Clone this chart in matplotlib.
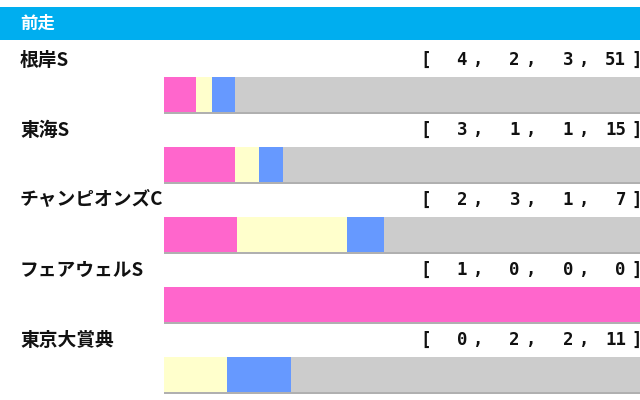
import matplotlib
matplotlib.use("Agg")
from matplotlib import pyplot as plt
from matplotlib.patches import Rectangle

plt.rcParams['font.family'] = ['Noto Sans CJK JP', 'DejaVu Sans']

# ---------------------------------------------------------------------------
#   dati: gare precedenti e risultati [1着, 2着, 3着, 着外]
# ---------------------------------------------------------------------------
title = "前走"
races = ["根岸S", "東海S", "チャンピオンズC", "フェアウェルS", "東京大賞典"]
first = [4, 3, 2, 1, 0]
second = [2, 1, 3, 0, 2]
third = [3, 1, 1, 0, 2]
other = [51, 15, 7, 0, 11]

colors = ["#ff66cc", "#ffffcc", "#6699ff", "#cccccc"]

W, H = 640, 400
fig = plt.figure(figsize=(6.4, 4.0), dpi=100)

# asse di sfondo in coordinate pixel
bg = fig.add_axes([0, 0, 1, 1])
bg.set_xlim(0, W)
bg.set_ylim(H, 0)
bg.axis("off")

# header
bg.add_patch(Rectangle((0, 7), W, 33, color="#00aeef", lw=0))
bg.text(20, 23.5, title, color="white", fontsize=12.5, fontweight="bold",
        va="center", ha="left")

row_h = 70
bar_x0 = 164
for i, name in enumerate(races):
    y_label = 60 + row_h * i
    bar_top = 77 + row_h * i
    bar_bot = 112 + row_h * i

    bg.text(20, y_label, name, fontsize=13.5, fontweight="bold",
            va="center", ha="left", color="#111111")

    # [ a , b , c , d ]
    vals = [first[i], second[i], third[i], other[i]]
    mono = dict(family="DejaVu Sans Mono", fontsize=12.5, fontweight="bold",
                va="center", color="#111111")
    bg.text(420, y_label, "[", ha="left", **mono)
    for k, v in enumerate(vals):
        xr = 467 + 53 * k
        bg.text(xr, y_label, str(v), ha="right", **mono)
        if k < 3:
            bg.text(xr + 6, y_label, ",", ha="left", **mono)
    bg.text(631, y_label, "]", ha="left", **mono)

    # ombra sotto la barra
    bg.add_patch(Rectangle((bar_x0, bar_bot), W - bar_x0, 2,
                           color="#b0b0b0", lw=0))

    # barra in pila
    ax = fig.add_axes([bar_x0 / W, 1 - bar_bot / H,
                       (W - bar_x0) / W, (bar_bot - bar_top) / H])
    total = sum(vals)
    left = 0
    for v, c in zip(vals, colors):
        if v > 0:
            ax.barh(0, v, left=left, height=1, color=c, lw=0)
        left += v
    ax.set_xlim(0, total)
    ax.set_ylim(-0.5, 0.5)
    ax.axis("off")

fig.savefig("out.png", dpi=100)
